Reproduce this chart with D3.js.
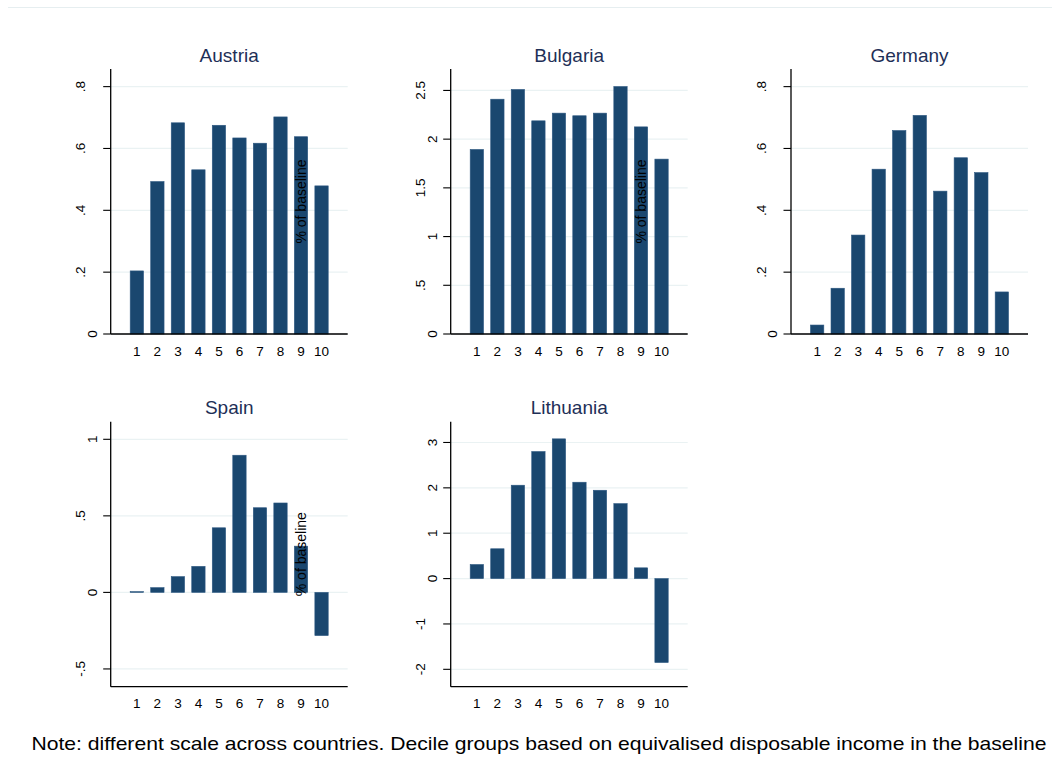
<!DOCTYPE html>
<html>
<head>
<meta charset="utf-8">
<script src="https://cdn.jsdelivr.net/npm/d3@7"></script>
<style>
  body { margin: 0; background: #fff; }
  svg { display: block; font-family: "Liberation Sans", Arial, sans-serif; }
</style>
</head>
<body>
<svg id="chart" width="1052" height="771"></svg>
<script>
// decile groups 1..10
const deciles = [1, 2, 3, 4, 5, 6, 7, 8, 9, 10];
const countries = ['Austria', 'Bulgaria', 'Germany', 'Spain', 'Lithuania'];

// change in % of baseline, per decile
const austria   = [0.204, 0.493, 0.683, 0.531, 0.675, 0.634, 0.617, 0.702, 0.638, 0.479];
const bulgaria  = [1.894, 2.410, 2.510, 2.188, 2.267, 2.240, 2.267, 2.540, 2.126, 1.795];
const germany   = [0.029, 0.148, 0.320, 0.533, 0.658, 0.707, 0.462, 0.570, 0.522, 0.136];
const spain     = [0.005, 0.031, 0.103, 0.170, 0.422, 0.896, 0.553, 0.584, 0.302, -0.282];
const lithuania = [0.310, 0.657, 2.058, 2.800, 3.080, 2.124, 1.947, 1.652, 0.237, -1.850];

// y axis ranges and ticks (different scale across countries)
const yRanges = [[0, 0.857], [0, 2.72], [0, 0.857], [-0.616, 1.115], [-2.383, 3.458]];
const yTicks = [
    [0, 0.2, 0.4, 0.6, 0.8],
    [0, 0.5, 1, 1.5, 2, 2.5],
    [0, 0.2, 0.4, 0.6, 0.8],
    [-0.5, 0, 0.5, 1],
    [-2, -1, 0, 1, 2, 3]
];
const showYTitle = [true, true, false, true, false];
const seriesList = [austria, bulgaria, germany, spain, lithuania];

const noteText = 'Note: different scale across countries. Decile groups based on equivalised disposable income in the baseline';

const barColor = '#1a476f';
const gridColor = '#eaf2f3';
const titleColor = '#1e2f57';

const svg = d3.select('#chart');

// top frame line
svg.append('line')
    .attr('x1', 8).attr('x2', 1052)
    .attr('y1', 7.5).attr('y2', 7.5)
    .attr('stroke', '#e6eef0').attr('stroke-width', 1);

const colLeft = [110.7, 450.7, 791];
const rowTop = [69, 421.7];
const plotW = 237;
const plotH = 265;

// Stata-style number labels: .5 instead of 0.5
function stataFmt(v) {
    let s = String(+v.toFixed(2));
    return s.replace(/^0\./, '.').replace(/^-0\./, '-.');
}

for (let k = 0; k < countries.length; k++) {
    let left = colLeft[k % 3];
    let top = rowTop[Math.floor(k / 3)];
    let g = svg.append('g').attr('transform', 'translate(' + left + ',' + top + ')');

    let x = d3.scaleLinear().domain([-0.275, 11.275]).range([0, plotW]);
    let y = d3.scaleLinear().domain(yRanges[k]).range([plotH, 0]);
    let vals = seriesList[k];

    // gridlines
    g.selectAll('.grid')
        .data(yTicks[k])
        .enter().append('line')
        .attr('x1', 0).attr('x2', plotW)
        .attr('y1', d => y(d)).attr('y2', d => y(d))
        .attr('stroke', gridColor).attr('stroke-width', 1.2);

    // bars
    g.selectAll('.bar')
        .data(deciles)
        .enter().append('rect')
        .attr('x', d => x(d - 0.325))
        .attr('width', x(0.65) - x(0))
        .attr('y', (d, i) => y(Math.max(0, vals[i])))
        .attr('height', (d, i) => Math.abs(y(vals[i]) - y(0)))
        .attr('fill', barColor)
        .attr('stroke', '#2c5780').attr('stroke-width', 0.6);

    // y axis
    g.append('line')
        .attr('x1', 0).attr('x2', 0)
        .attr('y1', 0).attr('y2', plotH)
        .attr('stroke', '#000').attr('stroke-width', 1.3);
    g.selectAll('.ytick')
        .data(yTicks[k])
        .enter().append('line')
        .attr('x1', -7.5).attr('x2', 0)
        .attr('y1', d => y(d)).attr('y2', d => y(d))
        .attr('stroke', '#000').attr('stroke-width', 1.1);
    g.selectAll('.ylab')
        .data(yTicks[k])
        .enter().append('text')
        .attr('transform', d => {
            let s = stataFmt(d);
            let off = s.length > 1 ? 25.5 : 14;
            return 'translate(' + (-off) + ',' + y(d) + ') rotate(-90)';
        })
        .attr('text-anchor', 'middle')
        .attr('font-size', 13.5)
        .attr('fill', '#000')
        .text(d => stataFmt(d));

    // x axis
    g.append('line')
        .attr('x1', 0).attr('x2', plotW)
        .attr('y1', plotH).attr('y2', plotH)
        .attr('stroke', '#000').attr('stroke-width', 1.3);
    g.selectAll('.xlab')
        .data(deciles)
        .enter().append('text')
        .attr('x', d => x(d))
        .attr('y', plotH + 21.5)
        .attr('text-anchor', 'middle')
        .attr('font-size', 13.5)
        .attr('fill', '#000')
        .text(d => d);

    // panel title
    g.append('text')
        .attr('x', plotW / 2)
        .attr('y', -7.5)
        .attr('text-anchor', 'middle')
        .attr('font-size', 19)
        .attr('fill', titleColor)
        .text(countries[k]);

    if (showYTitle[k]) {
        g.append('text')
            .attr('transform', 'translate(' + (x(9) + 5) + ',' + (plotH / 2) + ') rotate(-90)')
            .attr('text-anchor', 'middle')
            .attr('font-size', 14)
            .attr('fill', '#000')
            .text('% of baseline');
    }
}

svg.append('text')
    .attr('x', 31.5)
    .attr('y', 750)
    .attr('font-size', 18.5)
    .attr('fill', '#000')
    .attr('textLength', 1015)
    .attr('lengthAdjust', 'spacingAndGlyphs')
    .text(noteText);
</script>
</body>
</html>
